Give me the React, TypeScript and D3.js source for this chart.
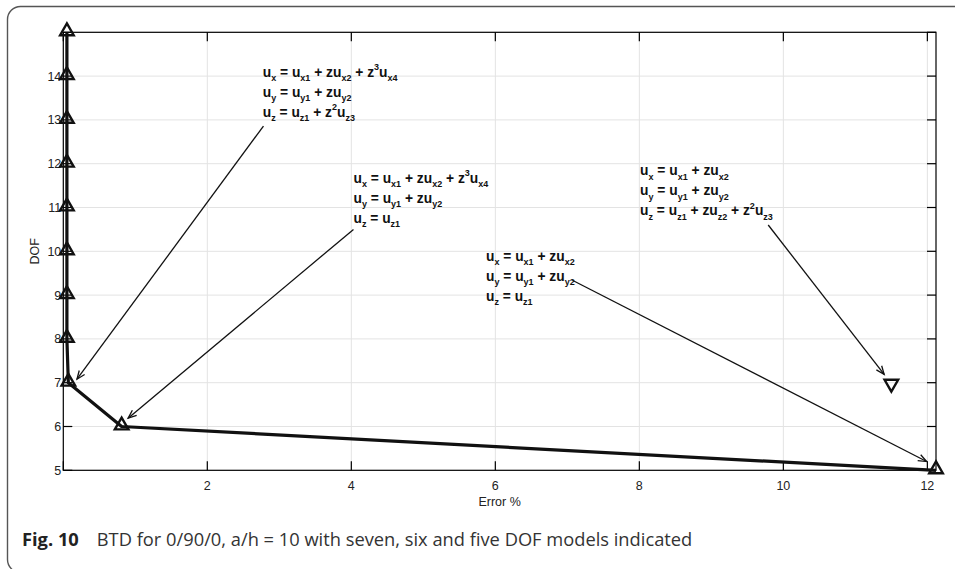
import React from "react";
import * as d3 from "d3";

// ---- data ----
const dofLevels = [15, 14, 13, 12, 11, 10, 9, 8, 7, 6, 5];
const errorPct = [0.05, 0.05, 0.05, 0.05, 0.05, 0.05, 0.05, 0.05, 0.07, 0.81, 12.12];
const altPoint = { err: 11.5, dof: 7 };

const xTicks = [0, 2, 4, 6, 8, 10, 12];
const xTickLabels = ["", "2", "4", "6", "8", "10", "12"];
const yTicks = [5, 6, 7, 8, 9, 10, 11, 12, 13, 14, 15];
const yTickLabels = ["5", "6", "7", "8", "9", "10", "11", "12", "13", "14", ""];

const xTitle = "Error %";
const yTitle = "DOF";
const captionBold = "Fig. 10";
const captionText = "BTD for 0/90/0, a/h = 10 with seven, six and five DOF models indicated";

// annotation text blocks (anchor in data coordinates, first-row baseline)
const noteX = [2.77, 4.03, 5.87, 8.01];
const noteY = [13.98, 11.56, 9.78, 11.74];
const noteRows = [
  ["u_{x} = u_{x1} + zu_{x2} + z^{3}u_{x4}", "u_{y} = u_{y1} + zu_{y2}", "u_{z} = u_{z1} + z^{2}u_{z3}"],
  ["u_{x} = u_{x1} + zu_{x2} + z^{3}u_{x4}", "u_{y} = u_{y1} + zu_{y2}", "u_{z} = u_{z1}"],
  ["u_{x} = u_{x1} + zu_{x2}", "u_{y} = u_{y1} + zu_{y2}", "u_{z} = u_{z1}"],
  ["u_{x} = u_{x1} + zu_{x2}", "u_{y} = u_{y1} + zu_{y2}", "u_{z} = u_{z1} + zu_{z2} + z^{2}u_{z3}"],
];

// arrows: start -> tip, data coordinates
const arrowX0 = [2.78, 4.03, 7.07, 9.79];
const arrowY0 = [12.86, 10.5, 9.34, 10.6];
const arrowX1 = [0.19, 0.9, 11.99, 11.4];
const arrowY1 = [7.08, 6.19, 5.2, 7.19];

// ---- layout ----
const W = 955;
const H = 569;
const left = 63.3;
const right = 936;
const top = 32.3;
const bottom = 470.3;

const x = d3.scaleLinear().domain([0, 12.12]).range([left, right]);
const y = d3.scaleLinear().domain([5, 15]).range([bottom, top]);

const axisFont = "Arial, 'Liberation Sans', Helvetica, sans-serif";
const noteSize = 13.8;
const noteSubSize = 9;

function parseMarkup(s: string) {
  const out: { t: string; k: "n" | "sub" | "sup" }[] = [];
  const re = /_\{([^}]*)\}|\^\{([^}]*)\}|([^_^]+)/g;
  let m: RegExpExecArray | null;
  while ((m = re.exec(s))) {
    if (m[1] !== undefined) out.push({ t: m[1], k: "sub" });
    else if (m[2] !== undefined) out.push({ t: m[2], k: "sup" });
    else out.push({ t: m[3], k: "n" });
  }
  return out;
}

function RichText({ x0, y0, s }: { x0: number; y0: number; s: string }) {
  const parts = parseMarkup(s);
  let cur = 0;
  return (
    <text x={x0} y={y0} fontFamily={axisFont} fontWeight="bold" fontSize={noteSize} fill="#111" style={{ whiteSpace: "pre" }}>
      {parts.map((p, i) => {
        const target = p.k === "sub" ? 4.5 : p.k === "sup" ? -6.5 : 0;
        const dy = target - cur;
        cur = target;
        return (
          <tspan key={i} dy={dy} fontSize={p.k === "n" ? noteSize : noteSubSize}>
            {p.t}
          </tspan>
        );
      })}
    </text>
  );
}

export default function App() {
  const pts = dofLevels.map((d, i) => [errorPct[i], d] as [number, number]);
  const line = d3.line<[number, number]>().x((d) => x(d[0])).y((d) => y(d[1]));
  const triUp = d3.symbol().type(d3.symbolTriangle).size(80)() as string;
  const tick = 9;

  const arrowHead = (i: number) => {
    const xa = x(arrowX0[i]);
    const ya = y(arrowY0[i]);
    const xb = x(arrowX1[i]);
    const yb = y(arrowY1[i]);
    const ang = Math.atan2(yb - ya, xb - xa);
    const L = 9;
    const spread = 0.38;
    const p1 = [xb - L * Math.cos(ang - spread), yb - L * Math.sin(ang - spread)];
    const p2 = [xb - L * Math.cos(ang + spread), yb - L * Math.sin(ang + spread)];
    return (
      <g key={"a" + i} stroke="#111" strokeWidth={1.3} fill="none">
        <line x1={xa} y1={ya} x2={xb} y2={yb} />
        <polyline points={`${p1[0]},${p1[1]} ${xb},${yb} ${p2[0]},${p2[1]}`} />
      </g>
    );
  };

  return (
    <svg width={W} height={H} style={{ position: "absolute", left: 0, top: 0, background: "#fff" }}>
      {/* frame */}
      <rect x={7.5} y={6.5} width={1000} height={566} rx={13} fill="none" stroke="#555" strokeWidth={1.4} />

      {/* grid */}
      <g stroke="#e3e3e3" strokeWidth={1}>
        {xTicks.slice(1).map((t) => (
          <line key={"gx" + t} x1={x(t)} x2={x(t)} y1={top} y2={bottom} />
        ))}
        {yTicks.slice(1, -1).map((t) => (
          <line key={"gy" + t} x1={left} x2={right} y1={y(t)} y2={y(t)} />
        ))}
      </g>

      {/* axes box + ticks */}
      <g stroke="#000" strokeWidth={1.2} fill="none">
        <rect x={left} y={top} width={right - left} height={bottom - top} />
        {xTicks.map((t) => (
          <g key={"tx" + t}>
            <line x1={x(t)} x2={x(t)} y1={bottom} y2={bottom - tick} />
            <line x1={x(t)} x2={x(t)} y1={top} y2={top + tick} />
          </g>
        ))}
        {yTicks.map((t) => (
          <g key={"ty" + t}>
            <line x1={left} x2={left + tick} y1={y(t)} y2={y(t)} />
            <line x1={right} x2={right - tick} y1={y(t)} y2={y(t)} />
          </g>
        ))}
      </g>

      {/* tick labels */}
      <g fontFamily={axisFont} fontSize={12.5} fill="#222">
        {xTicks.map((t, i) => (
          <text key={"lx" + t} x={x(t)} y={bottom + 20} textAnchor="middle">
            {xTickLabels[i]}
          </text>
        ))}
        {yTicks.map((t, i) => (
          <text key={"ly" + t} x={left - 2} y={y(t) + 4.5} textAnchor="end">
            {yTickLabels[i]}
          </text>
        ))}
        <text x={(left + right) / 2} y={bottom + 36} textAnchor="middle">
          {xTitle}
        </text>
        <text transform={`translate(39,${(top + bottom) / 2}) rotate(-90)`} textAnchor="middle">
          {yTitle}
        </text>
      </g>

      {/* data line */}
      <path d={line(pts) as string} fill="none" stroke="#111" strokeWidth={3.2} strokeLinejoin="round" />
      {pts.map((p, i) => (
        <path key={"m" + i} d={triUp} transform={`translate(${x(p[0])},${y(p[1]) - 1})`} fill="none" stroke="#111" strokeWidth={2.4} />
      ))}
      <path d={triUp} transform={`translate(${x(altPoint.err)},${y(altPoint.dof) + 1}) rotate(180)`} fill="none" stroke="#111" strokeWidth={2.4} />

      {/* arrows */}
      {arrowX0.map((_, i) => arrowHead(i))}

      {/* annotation text */}
      {noteRows.map((rows, bi) =>
        rows.map((r, ri) => <RichText key={bi + "-" + ri} x0={x(noteX[bi])} y0={y(noteY[bi]) + ri * 20} s={r} />)
      )}

      {/* caption */}
      <text x={22} y={546} fontFamily="'Open Sans', sans-serif" fontSize={18.3} fill="#333">
        <tspan fontWeight="bold" fill="#222">{captionBold}</tspan>
        <tspan dx={18}>{captionText}</tspan>
      </text>
    </svg>
  );
}
